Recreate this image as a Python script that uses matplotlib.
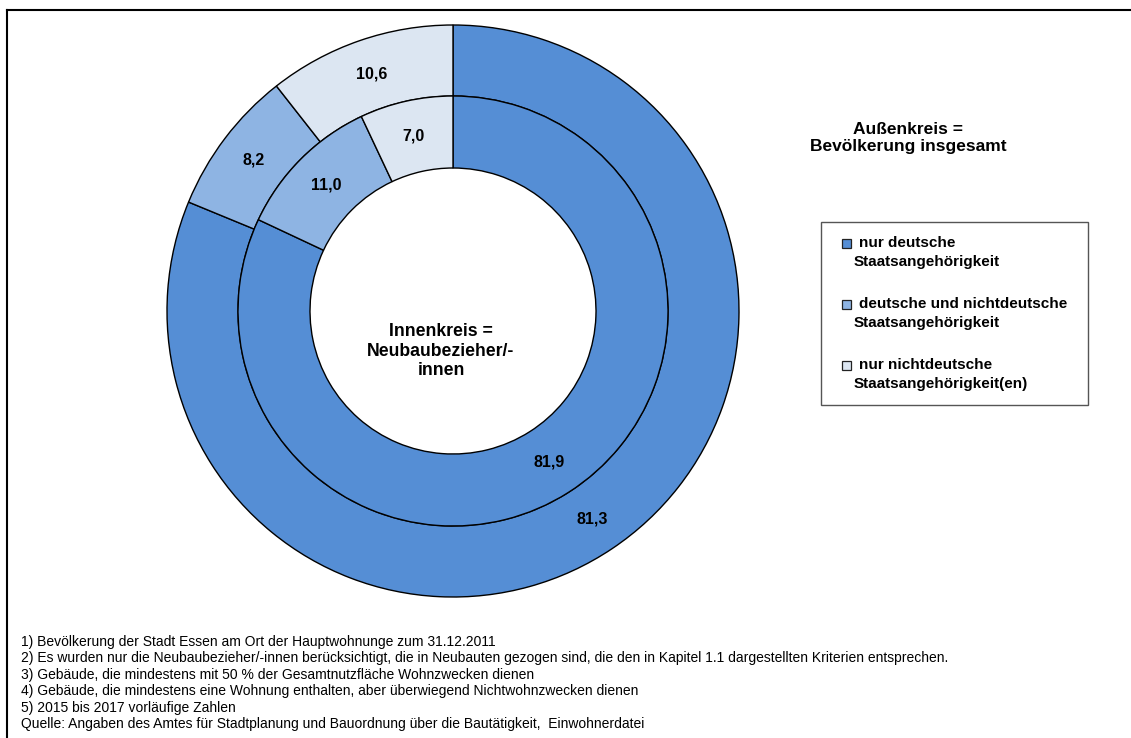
import matplotlib
matplotlib.use("Agg")
import matplotlib.pyplot as plt
from matplotlib.patches import Rectangle
import numpy as np

plt.rcParams['font.family'] = ['Liberation Sans', 'DejaVu Sans']

# ---- data ----
categories = ["nur deutsche", "deutsche und nichtdeutsche", "nur nichtdeutsche"]
category_second_lines = ["Staatsangehörigkeit", "Staatsangehörigkeit", "Staatsangehörigkeit(en)"]
outer_values = [81.3, 8.2, 10.6]   # Außenkreis = Bevölkerung insgesamt
inner_values = [81.9, 11.0, 7.0]   # Innenkreis = Neubaubezieher/-innen
colors = ["#558ED5", "#8EB4E3", "#DCE6F2"]
outer_title = "Außenkreis =\nBevölkerung insgesamt"
inner_title = "Innenkreis =\nNeubaubezieher/-\ninnen"
footnotes = [
    "1) Bevölkerung der Stadt Essen am Ort der Hauptwohnunge zum 31.12.2011",
    "2) Es wurden nur die Neubaubezieher/-innen berücksichtigt, die in Neubauten gezogen sind, die den in Kapitel 1.1 dargestellten Kriterien entsprechen.",
    "3) Gebäude, die mindestens mit 50 % der Gesamtnutzfläche Wohnzwecken dienen",
    "4) Gebäude, die mindestens eine Wohnung enthalten, aber überwiegend Nichtwohnzwecken dienen",
    "5) 2015 bis 2017 vorläufige Zahlen",
    "Quelle: Angaben des Amtes für Stadtplanung und Bauordnung über die Bautätigkeit,  Einwohnerdatei",
]

W, H = 1131, 738
fig = plt.figure(figsize=(W / 100, H / 100), dpi=100)
ax = fig.add_axes([0, 0, 1, 1])

cx, cy = 453, H - 311
R_out, R_mid, R_in = 286, 215, 143


def fmt(v):
    return f"{v:.1f}".replace(".", ",")


def ring(values, r, width):
    ax.pie(values, radius=r, center=(cx, cy), startangle=90, counterclock=False,
           colors=colors, frame=True,
           wedgeprops=dict(width=width, edgecolor="black", linewidth=1.0))
    total = float(sum(values))
    cum = 0.0
    rm = r - width / 2.0
    for v in values:
        ang = np.deg2rad(90 - 360.0 * (cum + v / 2.0) / total)
        ax.text(cx + rm * np.cos(ang), cy + rm * np.sin(ang), fmt(v),
                ha="center", va="center", fontsize=11.5, fontweight="bold", color="black")
        cum += v


ring(outer_values, R_out, R_out - R_mid)
ring(inner_values, R_mid, R_mid - R_in)

ax.set_xlim(0, W)
ax.set_ylim(0, H)
ax.set_aspect("equal", adjustable="box")
ax.axis("off")

# center title
ax.text(cx - 12, H - 351, inner_title, ha="center", va="center", fontsize=12.7,
        fontweight="bold", linespacing=1.22)
# outer title
ax.text(908, H - 138, outer_title, ha="center", va="center", fontsize=12.5,
        fontweight="bold", linespacing=1.24)

# legend box
ax.add_patch(Rectangle((821, H - 405), 1088 - 821, 405 - 222, facecolor="white",
                       edgecolor="#555555", linewidth=1.0))
for i, (c1, c2) in enumerate(zip(categories, category_second_lines)):
    yc = 243 + 61 * i
    ax.add_patch(Rectangle((842, H - yc - 4.5), 9, 9, facecolor=colors[i],
                           edgecolor="#222222", linewidth=0.9))
    ax.text(859, H - yc, c1, ha="left", va="center", fontsize=11, fontweight="bold")
    ax.text(854, H - yc - 19, c2, ha="left", va="center", fontsize=11, fontweight="bold")

# footnotes
for i, line in enumerate(footnotes):
    ax.text(21, H - (642 + 16.4 * i), line, ha="left", va="center", fontsize=10)

# frame (top and left only)
ax.plot([7, W], [H - 9.5, H - 9.5], color="black", linewidth=1.5, clip_on=False)
ax.plot([7, 7], [0, H - 9.5], color="black", linewidth=1.5, clip_on=False)

fig.savefig("out.png", dpi=100)
